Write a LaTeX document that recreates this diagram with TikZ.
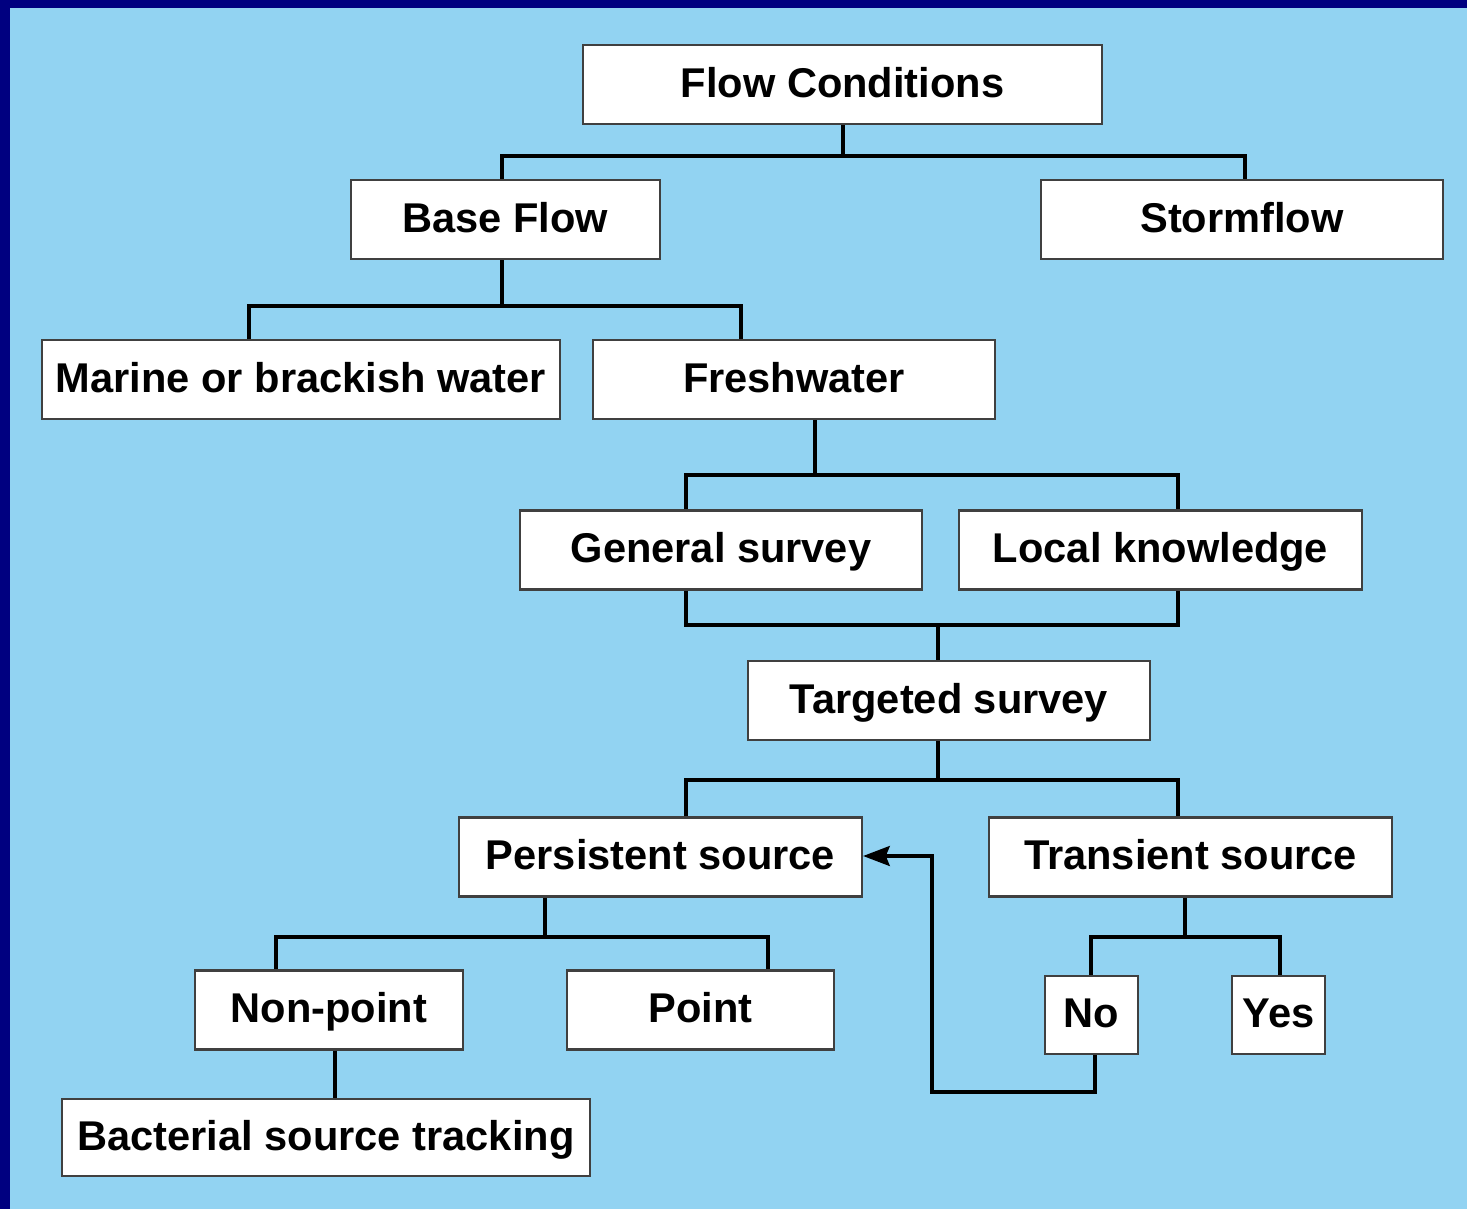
\documentclass[tikz,border=0pt]{standalone}
\usepackage{fontspec}
\setmainfont{Liberation Sans}
\usetikzlibrary{arrows.meta}
\definecolor{navybg}{HTML}{000080}
\definecolor{skybg}{HTML}{92D3F2}
\definecolor{boxline}{HTML}{404040}
\tikzset{
  box/.style={draw=boxline, line width=1.7pt, fill=white, inner sep=0pt,
    minimum height=59.25pt, text height=24pt, text depth=5.2pt,
    font=\fontsize{31.2}{37}\selectfont\bfseries, text=black},
  conn/.style={draw=black, line width=2.3pt},
}
\begin{document}
\begin{tikzpicture}[x=0.75pt,y=-0.75pt]
\useasboundingbox (0,0) rectangle (1467,1209);
\fill[navybg] (0,0) rectangle (1467,1209);
\fill[skybg] (10,8) rectangle (1467,1209);

% junction coordinates
\coordinate (j1m) at (843,156);
\coordinate (j1a) at (502,156);
\coordinate (j1b) at (1245,156);
\coordinate (j2a) at (249,306);
\coordinate (j2b) at (741,306);
\coordinate (j3m) at (815,475);
\coordinate (j3a) at (686,475);
\coordinate (j3b) at (1178,475);
\coordinate (j4a) at (686,625);
\coordinate (j4b) at (1178,625);
\coordinate (j4m) at (938,625);
\coordinate (j5m) at (938,780);
\coordinate (j5a) at (686,780);
\coordinate (j5b) at (1178,780);
\coordinate (j6m) at (545,937);
\coordinate (j6a) at (276,937);
\coordinate (j6b) at (768,937);
\coordinate (j7) at (335,1075);
\coordinate (j8m) at (1185,937);
\coordinate (j8a) at (1091,937);
\coordinate (j8b) at (1280,937);
\coordinate (k1) at (1095,1092);
\coordinate (k2) at (932,1092);
\coordinate (k3) at (932,856);

% nodes
\node[box, minimum width=389.25pt] (fc) at (842.5,84.5) {Flow Conditions};
\node[box, minimum width=231.75pt] (bf) at (505.5,219.5) {Base Flow};
\node[box, minimum width=301.5pt] (sf) at (1242,219.5) {Stormflow};
\node[box, minimum width=388.5pt] (mb) at (301,379.5) {Marine or brackish water};
\node[box, minimum width=301.5pt] (fw) at (794,379.5) {Freshwater};
\node[box, minimum width=301.5pt] (gs) at (721,550) {General survey};
\node[box, minimum width=302.25pt] (lk) at (1160.5,550) {Local knowledge};
\node[box, minimum width=301.5pt] (ts) at (949,700.5) {Targeted survey};
\node[box, minimum width=302.25pt] (ps) at (660.5,857) {Persistent source};
\node[box, minimum width=302.25pt] (tr) at (1190.5,857) {Transient source};
\node[box, minimum width=201pt] (np) at (329,1010) {Non-point};
\node[box, minimum width=200.25pt] (pt) at (700.5,1010) {Point};
\node[box, minimum width=69.75pt, minimum height=58.5pt] (no) at (1091.5,1015) {No};
\node[box, minimum width=69.75pt, minimum height=58.5pt] (yes) at (1278.5,1015) {Yes};
\node[box, minimum width=396pt, minimum height=57.75pt] (bst) at (326,1137.5) {Bacterial source tracking};

% tree connectors
\draw[conn] (fc.south -| j1m) -- (j1m);
\draw[conn] (bf.north -| j1a) -- (j1a) -- (j1b) -- (sf.north -| j1b);

\draw[conn] (bf.south -| j1a) -- (j1a |- j2a);
\draw[conn] (mb.north -| j2a) -- (j2a) -- (j2b) -- (fw.north -| j2b);

\draw[conn] (fw.south -| j3m) -- (j3m);
\draw[conn] (gs.north -| j3a) -- (j3a) -- (j3b) -- (lk.north -| j3b);

\draw[conn] (gs.south -| j4a) -- (j4a) -- (j4b) -- (lk.south -| j4b);
\draw[conn] (j4m) -- (ts.north -| j4m);

\draw[conn] (ts.south -| j5m) -- (j5m);
\draw[conn] (ps.north -| j5a) -- (j5a) -- (j5b) -- (tr.north -| j5b);

\draw[conn] (ps.south -| j6m) -- (j6m);
\draw[conn] (np.north -| j6a) -- (j6a) -- (j6b) -- (pt.north -| j6b);

\draw[conn] (np.south -| j7) -- (bst.north -| j7);

\draw[conn] (tr.south -| j8m) -- (j8m);
\draw[conn] (no.north -| j8a) -- (j8a) -- (j8b) -- (yes.north -| j8b);

\draw[conn, -{Stealth[length=20pt,width=15pt,inset=3pt]}] (no.south -| k1) -- (k1) -- (k2) -- (k3) -- (ps.east |- k3);
\end{tikzpicture}
\end{document}
